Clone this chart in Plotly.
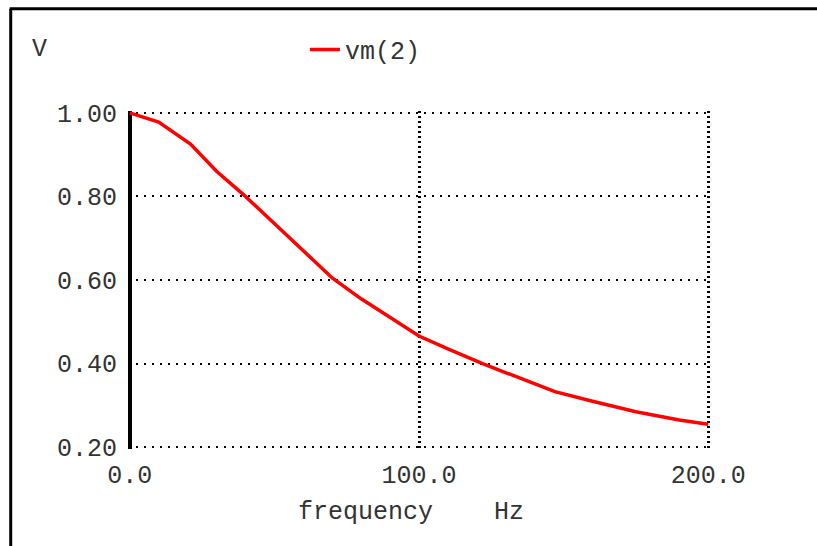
import plotly.graph_objects as go

freq = [0, 10, 21, 30, 40, 50, 60, 70, 80, 90, 100, 110, 122, 135, 147, 160, 175, 190, 200]
vm2 = [1.00, 0.978, 0.925, 0.86, 0.80, 0.735, 0.67, 0.605, 0.555, 0.51, 0.466,
       0.435, 0.40, 0.365, 0.333, 0.31, 0.285, 0.265, 0.255]
x_ticks = [0, 100, 200]
x_ticktext = ["0.0", "100.0", "200.0"]
y_ticks = [0.2, 0.4, 0.6, 0.8, 1.0]
y_ticktext = ["0.20", "0.40", "0.60", "0.80", "1.00"]

W, H = 817, 546
# pixel positions of the nominal data box (0..200 Hz, 0.2..1.0 V)
L, R, T, B = 130, 708, 113, 447
X0, X1, Y0, Y1 = 0.0, 200.0, 0.2, 1.0
PAD = 1.8  # px of extra range so edge grid lines are drawn
dx = PAD * (X1 - X0) / (R - L)
dy = PAD * (Y1 - Y0) / (B - T)
pl, pr, pt, pb = L - PAD, R + PAD, T - PAD, B + PAD

FONT = dict(family="Liberation Mono, DejaVu Sans Mono, monospace", size=25, color="#333")

def px_x(p):
    return (p - pl) / (pr - pl)

def px_y(p):
    return (pb - p) / (pb - pt)

fig = go.Figure()
fig.add_trace(go.Scatter(x=freq, y=vm2, mode="lines", name="vm(2)",
                         line=dict(color="#ff0000", width=3.5)))

fig.update_layout(
    width=W, height=H,
    margin=dict(l=pl, r=W - pr, t=pt, b=H - pb, pad=0),
    paper_bgcolor="white", plot_bgcolor="white",
    font=FONT,
    showlegend=True,
    legend=dict(x=px_x(305), y=px_y(50), xanchor="left", yanchor="middle",
                orientation="h", bgcolor="rgba(0,0,0,0)", font=FONT,
                itemwidth=30),
    xaxis=dict(range=[X0 - dx, X1 + dx], tickvals=x_ticks, ticktext=x_ticktext,
               showgrid=True, gridcolor="black", gridwidth=3, griddash="2px,3px",
               showline=False, zeroline=True, zerolinecolor="black", zerolinewidth=3.5,
               ticks="", ticklabelstandoff=8, tickfont=FONT),
    yaxis=dict(range=[Y0 - dy, Y1 + dy], tickvals=y_ticks, ticktext=y_ticktext,
               showgrid=True, gridcolor="black", gridwidth=2, griddash="2px,6px",
               showline=False, zeroline=False,
               ticks="", ticklabelstandoff=10, tickfont=FONT),
    shapes=[
        dict(type="line", xref="paper", yref="paper",
             x0=px_x(10), x1=px_x(817), y0=px_y(9), y1=px_y(9),
             line=dict(color="black", width=3)),
        dict(type="line", xref="paper", yref="paper",
             x0=px_x(11), x1=px_x(11), y0=px_y(9), y1=px_y(546),
             line=dict(color="black", width=3)),
    ],
    annotations=[
        dict(text="V", xref="paper", yref="paper", x=px_x(40), y=px_y(50),
             xanchor="center", yanchor="middle", showarrow=False, font=FONT),
        dict(text="frequency", xref="paper", yref="paper", x=px_x(366), y=px_y(512),
             xanchor="center", yanchor="middle", showarrow=False, font=FONT),
        dict(text="Hz", xref="paper", yref="paper", x=px_x(509), y=px_y(512),
             xanchor="center", yanchor="middle", showarrow=False, font=FONT),
    ],
)

fig.write_html("out.html", config={"displayModeBar": False},
               post_script="document.body.style.margin='0';document.body.style.overflow='hidden';")
